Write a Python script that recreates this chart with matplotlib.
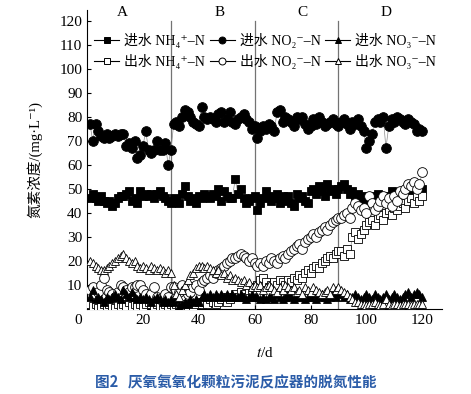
import numpy as np
import matplotlib
matplotlib.use("Agg")
import matplotlib.pyplot as plt

plt.rcParams['font.family'] = ['Liberation Serif', 'Noto Sans CJK SC', 'DejaVu Serif']
plt.rcParams['mathtext.fontset'] = 'stix'

days = np.arange(1, 121)

inf_nh4 = [46, 48, 46, 45, 47, 45, 44, 45, 43, 44, 46, 47, 47, 48, 49, 45, 46, 44, 49, 47, 48, 47, 48, 46, 48, 49, 47, 46, 45, 44,
           46, 45, 44, 48, 51, 47, 45, 46, 44, 47, 46, 48, 47, 46, 48, 47, 50, 45, 49, 47, 46, 46, 54, 48, 50, 46, 44, 45, 46, 47,
           41, 44, 46, 49, 47, 45, 46, 48, 44, 47, 45, 47, 44, 43, 48, 46, 47, 45, 44, 49, 50, 48, 51, 49, 47, 52, 49, 50, 48, 50,
           51, 52, 50, 48, 49, 47, 48, 46, 45, 47, 44, 46, 47, 48, 45, 44, 46, 47, 49, 48, 46, 47, 48, 47, 49, 50, 48, 47, 48, 50]
out_nh4 = [2, 1, 2, 0.5, 1, 2, 1, 2, 1, 0.5, 2, 1, 2, 1, 3, 1, 2, 1, 2, 1, 2, 3, 2, 1, 2, 1, 1, 2, 1, 2,
           1, 2, 1, 0.5, 2, 1, 2, 1, 2, 3, 2, 3, 2, 4, 3, 2, 3, 4, 5, 3, 4, 5, 6, 5, 7, 6, 5, 8, 7, 9,
           10, 12, 13, 11, 9, 10, 11, 10, 12, 11, 10, 12, 11, 13, 12, 14, 13, 15, 16, 15, 17, 18, 17, 19, 20, 21, 22, 21, 23, 24,
           24, 22, 25, 23, 30, 32, 29, 31, 33, 35, 36, 37, 35, 38, 39, 37, 40, 41, 39, 42, 41, 43, 44, 42, 45, 46, 44, 47, 45, 47]
inf_no2 = [77, 70, 77, 74, 72, 71, 73, 71, 72, 73, 72, 73, 73, 68, 69, 67, 70, 63, 64, 68, 74, 66, 65, 66, 70, 66, 66, 69, 60, 66,
           77, 78, 76, 80, 83, 82, 80, 78, 77, 76, 84, 80, 79, 80, 79, 78, 81, 82, 78, 79, 82, 78, 77, 79, 80, 81, 79, 78, 75, 76,
           71, 74, 76, 75, 77, 76, 74, 82, 83, 78, 80, 79, 78, 76, 80, 79, 80, 77, 75, 76, 79, 77, 80, 78, 76, 77, 78, 79, 77, 76,
           78, 79, 77, 75, 78, 77, 79, 76, 74, 67, 70, 73, 78, 79, 78, 80, 67, 76, 79, 78, 80, 79, 78, 77, 79, 78, 77, 74, 75, 74]
out_no2 = [8, 9, 6, 7, 10, 13, 8, 7, 6, 5, 7, 10, 9, 8, 7, 9, 9, 10, 10, 8, 6, 5, 6, 9, 5, 4, 5, 6, 5, 9,
           9, 8, 7, 10, 8, 6, 7, 9, 10, 8, 11, 12, 13, 14, 13, 15, 16, 17, 18, 19, 20, 21, 21, 22, 23, 22, 21, 20, 21, 19,
           18, 19, 18, 20, 19, 21, 20, 19, 21, 22, 21, 23, 24, 25, 26, 27, 25, 28, 29, 30, 31, 30, 32, 33, 34, 33, 35, 36, 37, 38,
           38, 39, 40, 38, 42, 44, 43, 41, 42, 40, 47, 44, 41, 43, 45, 47, 44, 46, 43, 47, 45, 49, 48, 50, 52, 51, 53, 50, 52, 57]
inf_no3 = [5, 8, 4, 5, 4, 3, 5, 4, 5, 6, 5, 4, 8, 6, 5, 7, 5, 4, 5, 4, 5, 4, 3, 4, 5, 4, 3, 4, 3, 4,
           3, 4, 1, 2, 3, 2, 4, 3, 4, 3, 5, 6, 5, 6, 5, 6, 5, 6, 5, 6, 5, 6, 5, 5, 6, 5, 4, 5, 6, 5,
           5, 4, 5, 4, 5, 5, 4, 6, 5, 4, 5, 6, 5, 4, 5, 6, 5, 4, 5, 5, 6, 4, 5, 6, 5, 4, 5, 6, 5, 6,
           7, 5, 6, 4, 5, 6, 5, 4, 5, 6, 5, 4, 6, 5, 4, 5, 6, 4, 5, 6, 5, 4, 5, 6, 7, 5, 6, 7, 6, 5]
out_no3 = [20, 19, 18, 17, 16, 16, 17, 18, 19, 20, 21, 22, 23, 21, 20, 19, 20, 18, 17, 18, 17, 16, 18, 17, 16, 17, 16, 15, 16, 15,
           10, 6, 5, 8, 10, 12, 14, 15, 17, 18, 18, 17, 18, 17, 16, 15, 16, 14, 15, 13, 14, 12, 13, 12, 11, 12, 10, 11, 9, 10,
           9, 10, 8, 9, 10, 9, 8, 7, 9, 8, 10, 9, 8, 9, 7, 8, 6, 9, 8, 7, 9, 8, 7, 6, 7, 8, 6, 9, 8, 9,
           8, 7, 6, 5, 4, 3, 3, 2, 2, 1.5, 2, 2, 3, 2, 1.5, 2, 4, 2, 1.5, 2, 2, 1.5, 2, 2, 2, 1.5, 2, 2, 2, 2]

phases = ['A', 'B', 'C', 'D']
phase_x = [12.5, 47.5, 77, 107]
bounds = [30, 60, 90]

fig = plt.figure(figsize=(4.71, 3.94), dpi=100)
ax = fig.add_axes([0.185, 0.216, 0.753, 0.759])

series = [
    (inf_nh4, 's', 'k', '进水 NH₄⁺–N'),
    (out_nh4, 's', 'w', '出水 NH₄⁺–N'),
    (inf_no2, 'o', 'k', '进水 NO₂⁻–N'),
    (out_no2, 'o', 'w', '出水 NO₂⁻–N'),
    (inf_no3, '^', 'k', '进水 NO₃⁻–N'),
    (out_no3, '^', 'w', '出水 NO₃⁻–N'),
]
handles = []
for vals, m, fc, lab in series:
    ms = 7 if m == 'o' else 5.5
    ax.plot(days, vals, color='0.55', lw=0.5, zorder=2)
    ax.plot(days, vals, ls='none', marker=m, ms=ms, mfc=fc, mec='k', mew=0.6, zorder=3)
    h, = ax.plot([], [], color='k', lw=0.8, marker=m, ms=5, mfc=fc, mec='k', mew=0.7, label=lab)
    handles.append(h)

for b in bounds:
    ax.plot([b, b], [0, 120], color='0.45', lw=0.9, zorder=1)
for p, x in zip(phases, phase_x):
    ax.text(x, 123.5, p, ha='center', va='center', fontsize=11)

ax.legend(handles=handles, ncol=3, frameon=False, loc='upper left',
          bbox_to_anchor=(0.0, 0.947), fontsize=10, handlelength=1.8,
          handletextpad=0.35, columnspacing=0.35, labelspacing=0.45, borderpad=0)

ax.set_xlim(0, 127)
ax.set_ylim(0, 124.5)
ax.set_xticks([20, 40, 60, 80, 100, 120])
ax.set_yticks(np.arange(10, 121, 10))
ax.tick_params(direction='in', length=3, width=0.8, labelsize=11)
ax.text(-1.8, -2, '0', ha='right', va='top', fontsize=11)
for s in ['top', 'right']:
    ax.spines[s].set_visible(False)

ax.set_ylabel('氮素浓度/(mg·L⁻¹)', fontsize=10.5, labelpad=12)
ax.set_xlabel('$t$/d', fontsize=11, labelpad=14)

fig.text(0.5, 0.03, '图2   厌氧氨氧化颗粒污泥反应器的脱氮性能', ha='center', va='center',
         fontsize=10.5, fontweight='bold', color='#2b5ca8', family='Noto Sans CJK SC')

fig.savefig('out.png', dpi=100)
